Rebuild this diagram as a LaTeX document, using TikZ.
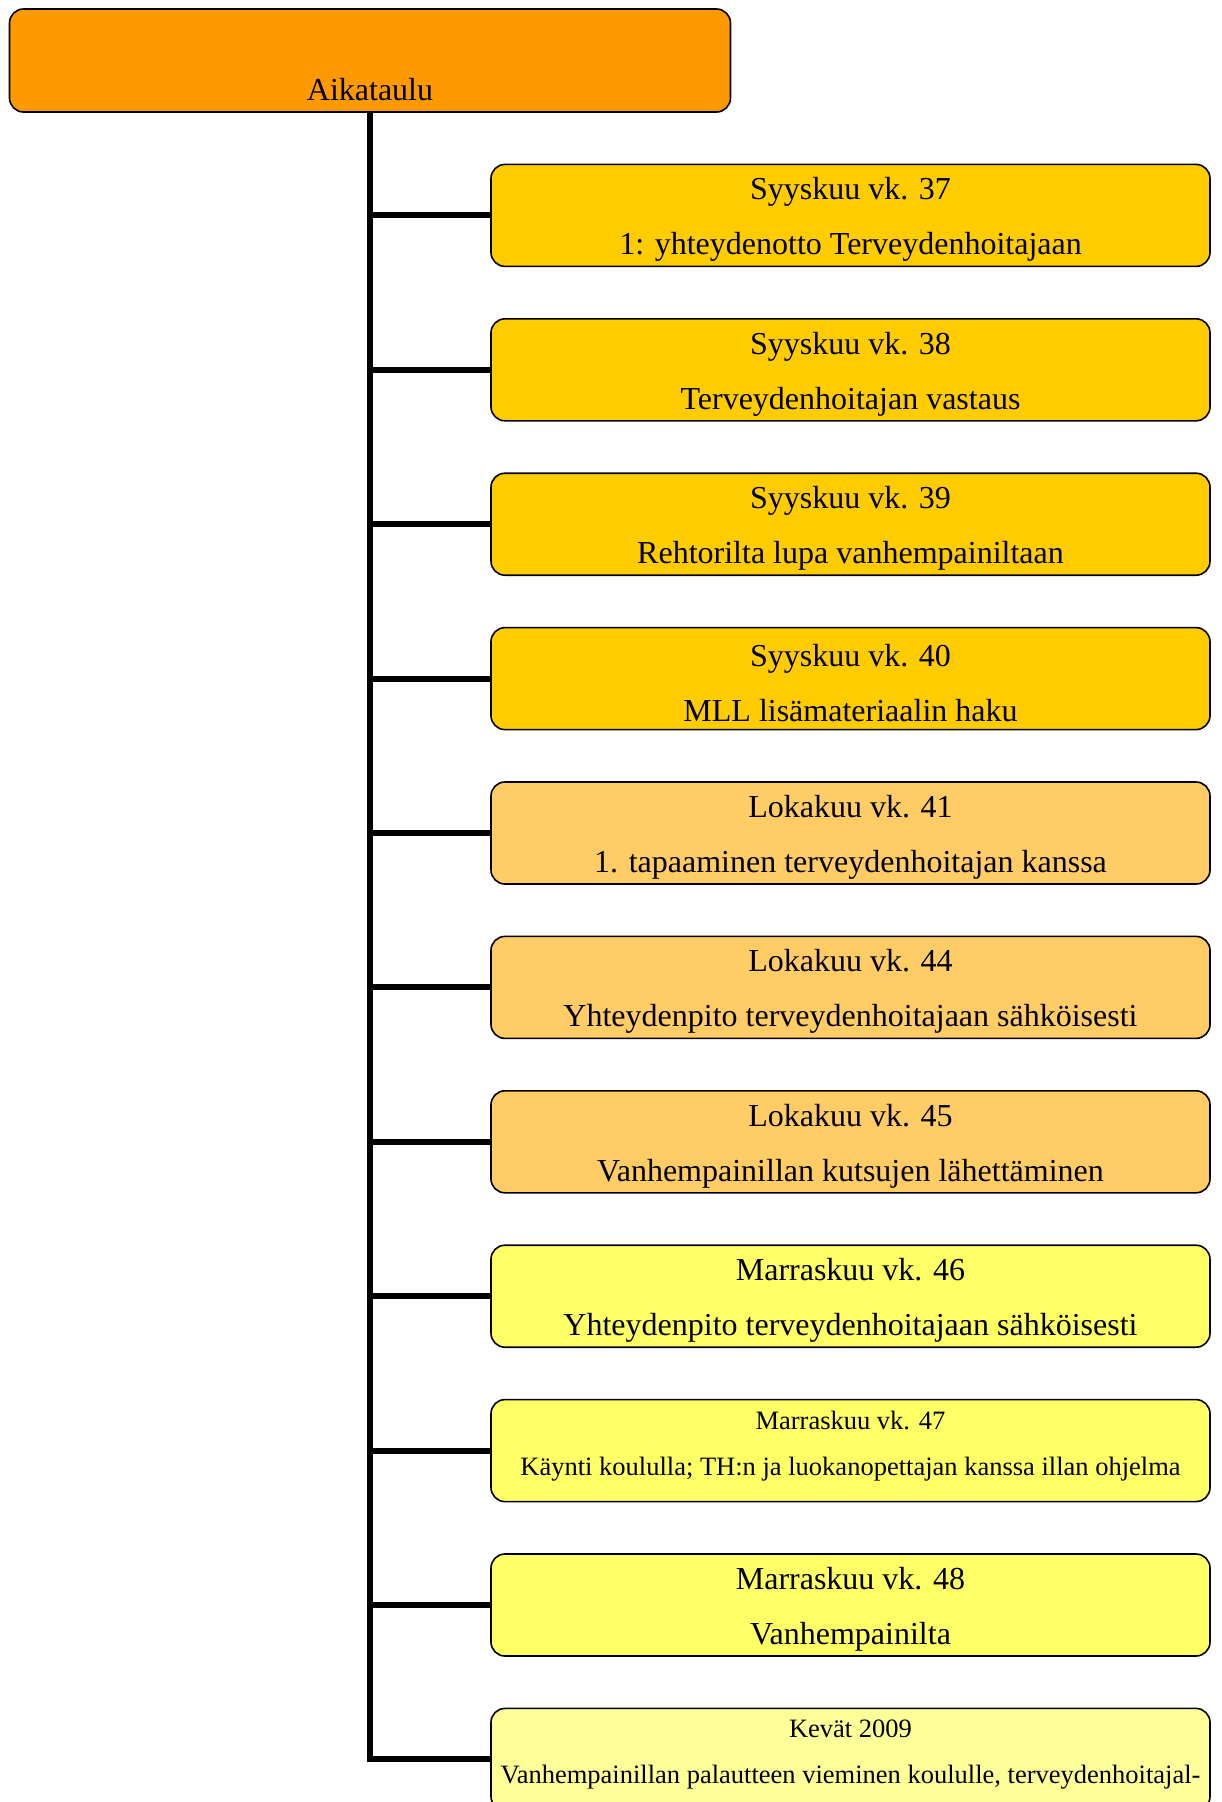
\documentclass[tikz,border=0pt]{standalone}
\usepackage{fontspec}
\setmainfont{Liberation Serif}
\usetikzlibrary{positioning}

\definecolor{rootorange}{HTML}{FF9900}
\definecolor{syysgold}{HTML}{FFCC00}
\definecolor{lokaorange}{HTML}{FFCC66}
\definecolor{marrasyellow}{HTML}{FFFF66}
\definecolor{kevatyellow}{HTML}{FFFF99}
\newcommand{\wkstrut}{\rule{0pt}{31pt}}

\begin{document}
\begin{tikzpicture}[x=1pt, y=-1pt,
  root/.style={draw, rounded corners=14pt, line width=1.6pt, fill=rootorange, minimum width=721pt, minimum height=103pt, inner sep=0pt, align=center, font=\fontsize{32}{55}\selectfont},
  week/.style={draw, rounded corners=14pt, line width=1.6pt, minimum width=719pt, minimum height=102pt, inner sep=0pt, align=center, font=\fontsize{32}{55}\selectfont},
  small/.style={font=\fontsize{26.5}{46}\selectfont, execute at end node={\rule[-15pt]{0pt}{0pt}}},
  branch/.style={line width=6pt}
]
\useasboundingbox (0,0) rectangle (1221,1802);
\clip (0,0) rectangle (1221,1802);

% Root
\node[root] (root) at (370,60.5) {\mbox{}\\[25pt]Aikataulu};

% Syyskuu
\node[week, fill=syysgold] (w1) at (850.5,215.4) {\wkstrut Syyskuu vk. 37\\1: yhteydenotto Terveydenhoitajaan};
\node[week, fill=syysgold] (w2) at (850.5,369.8) {\wkstrut Syyskuu vk. 38\\Terveydenhoitajan vastaus};
\node[week, fill=syysgold] (w3) at (850.5,524.2) {\wkstrut Syyskuu vk. 39\\Rehtorilta lupa vanhempainiltaan};
\node[week, fill=syysgold] (w4) at (850.5,678.6) {\wkstrut Syyskuu vk. 40\\MLL lisämateriaalin haku};

% Lokakuu
\node[week, fill=lokaorange] (w5) at (850.5,833.0) {\wkstrut Lokakuu vk. 41\\1. tapaaminen terveydenhoitajan kanssa};
\node[week, fill=lokaorange] (w6) at (850.5,987.4) {\wkstrut Lokakuu vk. 44\\Yhteydenpito terveydenhoitajaan sähköisesti};
\node[week, fill=lokaorange] (w7) at (850.5,1141.8) {\wkstrut Lokakuu vk. 45\\Vanhempainillan kutsujen lähettäminen};

% Marraskuu
\node[week, fill=marrasyellow] (w8) at (850.5,1296.2) {\wkstrut Marraskuu vk. 46\\Yhteydenpito terveydenhoitajaan sähköisesti};
\node[week, small, fill=marrasyellow] (w9) at (850.5,1450.6) {Marraskuu vk. 47\\Käynti koululla; TH:n ja luokanopettajan kanssa illan ohjelma};
\node[week, fill=marrasyellow] (w10) at (850.5,1605.0) {\wkstrut Marraskuu vk. 48\\Vanhempainilta};

% Kevät
\node[week, small, fill=kevatyellow] (w11) at (850.5,1759.4) {Kevät 2009\\Vanhempainillan palautteen vieminen koululle, terveydenhoitajal-};

% Trunk and branches
\draw[branch] (root.south) |- (w11.west);
\foreach \i in {1,...,10} {
  \draw[branch] (root.south |- w\i.west) -- (w\i.west);
}
\end{tikzpicture}
\end{document}
